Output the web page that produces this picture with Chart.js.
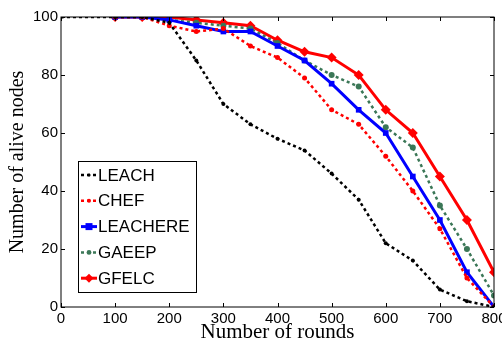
<!DOCTYPE html>
<html>
<head>
<meta charset="utf-8">
<script src="https://cdn.jsdelivr.net/npm/chart.js@4"></script>
<style>
  html, body { margin: 0; padding: 0; background: #fff; }
  #wrap { width: 502px; height: 345px; }
</style>
</head>
<body>
<div id="wrap"><canvas id="lifetime"></canvas></div>
<script>
const rounds = [0, 100, 150, 200, 250, 300, 350, 400, 450, 500, 550, 600, 650, 700, 750, 800];
const leach    = [100, 100, 100, 98, 85, 70, 63, 58, 54, 46, 37, 22, 16, 6, 2, 0];
const chef     = [null, 100, 100, 97, 95, 96, 90, 86, 79, 68, 63, 52, 40, 27, 10, 0];
const leachere = [null, 100, 100, 99, 97, 95, 95, 90, 85, 77, 68, 60, 45, 30, 12, 0];
const gaeep    = [null, 100, 100, 99, 98, 97, 96, 91, 85, 80, 76, 62, 55, 35, 20, 4];
const gfelc    = [null, 100, 100, 100, 99, 98, 97, 92, 88, 86, 80, 68, 60, 45, 30, 12];
const xTicks = [0, 100, 200, 300, 400, 500, 600, 700, 800];
const yTicks = [0, 20, 40, 60, 80, 100];

const GREEN = '#3b7757';
const sansFont = "'Liberation Sans', Arial, sans-serif";
const serifFont = "'Liberation Serif', 'Times New Roman', serif";

function points(values) {
  return rounds.map((r, i) => ({ x: r, y: values[i] })).filter(p => p.y !== null);
}

function series(label, values, style) {
  return Object.assign({
    label,
    data: points(values),
    fill: false,
    tension: 0,
    borderCapStyle: 'butt',
  }, style);
}

const datasets = [
  series('LEACH', leach, {
    borderColor: '#000', backgroundColor: '#000', borderWidth: 2.5, borderDash: [3, 3],
    pointStyle: 'circle', pointRadius: 2, pointBorderWidth: 0,
  }),
  series('CHEF', chef, {
    borderColor: '#ff0000', backgroundColor: '#ff0000', borderWidth: 2.5, borderDash: [3, 3],
    pointStyle: 'circle', pointRadius: 2.5, pointBorderWidth: 0,
  }),
  series('LEACHERE', leachere, {
    borderColor: '#0000ff', backgroundColor: '#0000ff', borderWidth: 3,
    pointStyle: 'rect', pointRadius: 4, pointBorderWidth: 0,
  }),
  series('GAEEP', gaeep, {
    borderColor: GREEN, backgroundColor: GREEN, borderWidth: 2.5, borderDash: [3, 3],
    pointStyle: 'circle', pointRadius: 3, pointBorderWidth: 0,
  }),
  series('GFELC', gfelc, {
    borderColor: '#ff0000', backgroundColor: '#ff0000', borderWidth: 3,
    pointStyle: 'rectRot', pointRadius: 5, pointBorderWidth: 0,
  }),
];

// box around the plot with inward tick marks on all four sides
const frame = {
  id: 'frame',
  afterDatasetsDraw(chart) {
    const { ctx, chartArea: a, scales } = chart;
    ctx.save();
    ctx.strokeStyle = '#000';
    ctx.lineWidth = 1;
    ctx.strokeRect(a.left, a.top, a.right - a.left, a.bottom - a.top);
    ctx.beginPath();
    xTicks.forEach(v => {
      const x = Math.round(scales.x.getPixelForValue(v)) + 0.5;
      ctx.moveTo(x, a.bottom); ctx.lineTo(x, a.bottom - 4);
      ctx.moveTo(x, a.top); ctx.lineTo(x, a.top + 4);
    });
    yTicks.forEach(v => {
      const y = Math.round(scales.y.getPixelForValue(v)) + 0.5;
      ctx.moveTo(a.left, y); ctx.lineTo(a.left + 4, y);
      ctx.moveTo(a.right, y); ctx.lineTo(a.right - 4, y);
    });
    ctx.stroke();
    ctx.restore();
  },
};

// boxed legend in the lower left of the plot
const boxLegend = {
  id: 'boxLegend',
  afterDraw(chart) {
    const { ctx } = chart;
    const left = 78, top = 161, width = 118, height = 131;
    ctx.save();
    ctx.fillStyle = '#fff';
    ctx.fillRect(left, top, width, height);
    ctx.strokeStyle = '#000';
    ctx.lineWidth = 1;
    ctx.strokeRect(left + 0.5, top + 0.5, width, height);
    ctx.font = '17px ' + sansFont;
    ctx.textBaseline = 'middle';
    chart.data.datasets.forEach((ds, i) => {
      const y = 175 + i * 25.8;
      ctx.strokeStyle = ds.borderColor;
      ctx.lineWidth = ds.borderWidth;
      ctx.setLineDash(ds.borderDash || []);
      ctx.beginPath();
      ctx.moveTo(81, y);
      ctx.lineTo(97, y);
      ctx.stroke();
      ctx.setLineDash([]);
      ctx.fillStyle = ds.backgroundColor;
      const r = Math.min(ds.pointRadius, 3.5);
      ctx.beginPath();
      if (ds.pointStyle === 'rect') {
        ctx.rect(89 - r, y - r, 2 * r, 2 * r);
      } else if (ds.pointStyle === 'rectRot') {
        ctx.moveTo(89, y - r - 1); ctx.lineTo(89 + r + 1, y);
        ctx.lineTo(89, y + r + 1); ctx.lineTo(89 - r - 1, y);
        ctx.closePath();
      } else {
        ctx.arc(89, y, r * 0.8, 0, Math.PI * 2);
      }
      ctx.fill();
      ctx.fillStyle = '#000';
      ctx.fillText(ds.label, 98, y + 1);
    });
    ctx.restore();
  },
};

new Chart(document.getElementById('lifetime'), {
  type: 'line',
  data: { datasets },
  plugins: [frame, boxLegend],
  options: {
    responsive: true,
    maintainAspectRatio: false,
    animation: false,
    layout: { padding: { top: 17, right: 8, left: 0, bottom: 0 } },
    plugins: {
      legend: { display: false },
      tooltip: { enabled: false },
    },
    scales: {
      x: {
        type: 'linear',
        min: 0,
        max: 800,
        afterBuildTicks: scale => { scale.ticks = xTicks.map(v => ({ value: v })); },
        afterFit: scale => { scale.height = 38; scale.paddingLeft = 0; scale.paddingRight = 0; },
        grid: { display: false, drawTicks: false },
        border: { display: false },
        ticks: { color: '#000', font: { family: sansFont, size: 15 }, padding: 3, maxRotation: 0 },
        title: {
          display: true,
          text: 'Number of rounds',
          color: '#000',
          font: { family: serifFont, size: 21 },
          padding: { top: 0, bottom: 0 },
        },
      },
      y: {
        type: 'linear',
        min: 0,
        max: 100,
        afterBuildTicks: scale => { scale.ticks = yTicks.map(v => ({ value: v })); },
        afterFit: scale => { scale.width = 61; scale.paddingTop = 0; scale.paddingBottom = 0; },
        grid: { display: false, drawTicks: false },
        border: { display: false },
        ticks: { color: '#000', font: { family: sansFont, size: 15 }, padding: 3 },
        title: {
          display: true,
          text: 'Number of alive nodes',
          color: '#000',
          font: { family: serifFont, size: 20 },
          padding: { top: 6, bottom: 0 },
        },
      },
    },
  },
});
</script>
</body>
</html>
